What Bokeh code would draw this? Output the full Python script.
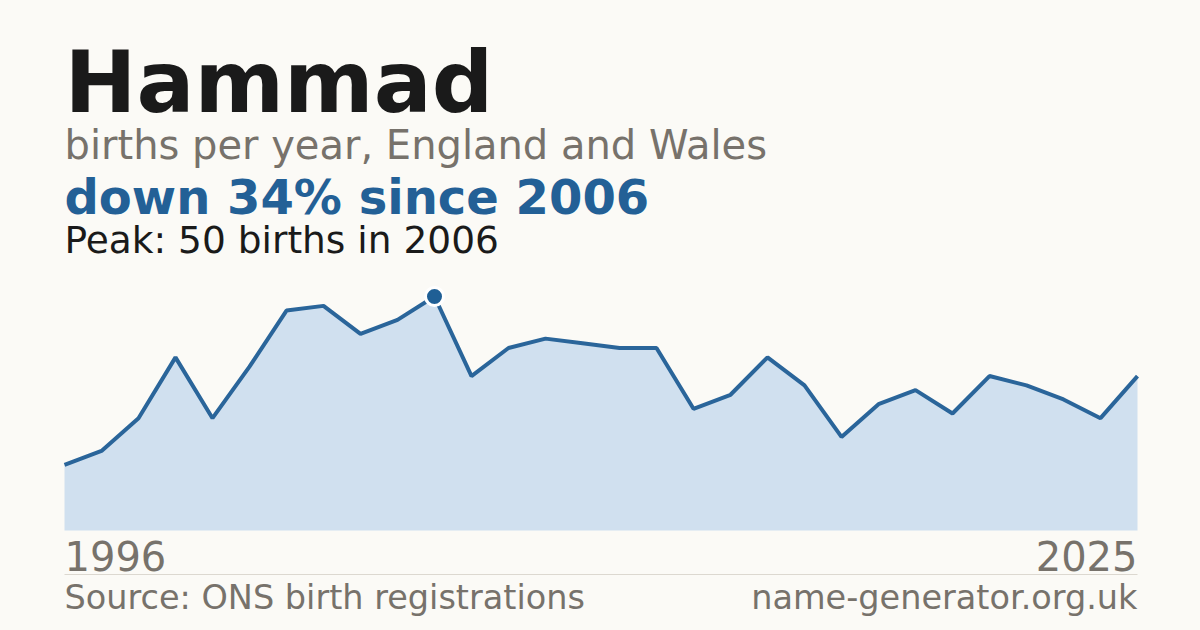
from bokeh.plotting import figure
from bokeh.models import Label, Range1d
from bokeh.embed import file_html
from bokeh.resources import INLINE

years = list(range(1996, 2026))
births = [14, 17, 24, 37, 24, 35, 47, 48, 42, 45, 50, 33, 39, 41, 40, 39, 39, 26, 29,
          37, 31, 20, 27, 30, 25, 33, 31, 28, 24, 33]
title = "Hammad"
subtitle = "births per year, England and Wales"
headline = "down 34% since 2006"
peak_text = "Peak: 50 births in 2006"
source_text = "Source: ONS birth registrations"
site_text = "name-generator.org.uk"

W, H = 1200, 630
BG = "#fbfaf6"
FONT = "DejaVu Sans"

# pixel geometry (canvas coords)
x0_px, x1_px = 64, 1137
px_per_year = (x1_px - x0_px) / (years[-1] - years[0])
base_from_bottom = H - 530
peak_from_bottom = H - 296
px_per_unit = (peak_from_bottom - base_from_bottom) / max(births)

p = figure(width=W, height=H, output_backend="svg", toolbar_location=None,
           min_border=0, x_axis_type=None, y_axis_type=None)
p.x_range = Range1d(years[0] - x0_px / px_per_year, years[-1] + (W - x1_px) / px_per_year)
p.y_range = Range1d(-base_from_bottom / px_per_unit, (H - base_from_bottom) / px_per_unit)
p.background_fill_color = BG
p.border_fill_color = BG
p.outline_line_color = None
p.grid.visible = False

p.varea(x=years, y1=[0] * len(years), y2=births, fill_color="#d0e0ef")
p.line(x=years, y=births, line_color="#2a659a", line_width=4)

pk = births.index(max(births))
p.scatter(x=[years[pk]], y=[births[pk]], size=18, marker="circle",
          fill_color="#1f5f95", line_color="white", line_width=3)

def lab(txt, x, y_page, size, color, bold=False, align="left"):
    shift = 0.37 * size
    p.add_layout(Label(x=x, y=H - y_page + shift, x_units="screen", y_units="screen",
                       text=txt, text_font=FONT, text_font_size=f"{size}px",
                       text_color=color, text_font_style="bold" if bold else "normal",
                       text_align=align, text_baseline="alphabetic"))

lab(title, 64, 113, 86, "#1a1a1a", bold=True)
lab(subtitle, 64, 159, 40, "#77726b")
lab(headline, 64, 214, 48, "#236096", bold=True)
lab(peak_text, 64, 253, 37.5, "#1a1a1a")
lab(str(years[0]), 64, 570, 40, "#77726b")
lab(str(years[-1]), 1137, 570, 40, "#77726b", align="right")
lab(source_text, 64, 609, 33.5, "#77726b")
lab(site_text, 1137, 609, 33.5, "#77726b", align="right")

# separator
sep_y = (H - 574 - base_from_bottom) / px_per_unit
p.segment(x0=[years[0]], x1=[years[-1]], y0=[sep_y], y1=[sep_y],
          line_color="#dcd8d0", line_width=1)

html = file_html(p, INLINE)
html = html.replace("<head>", "<head><style>body{background:%s;}</style>" % BG, 1)
open("out.html", "w").write(html)
